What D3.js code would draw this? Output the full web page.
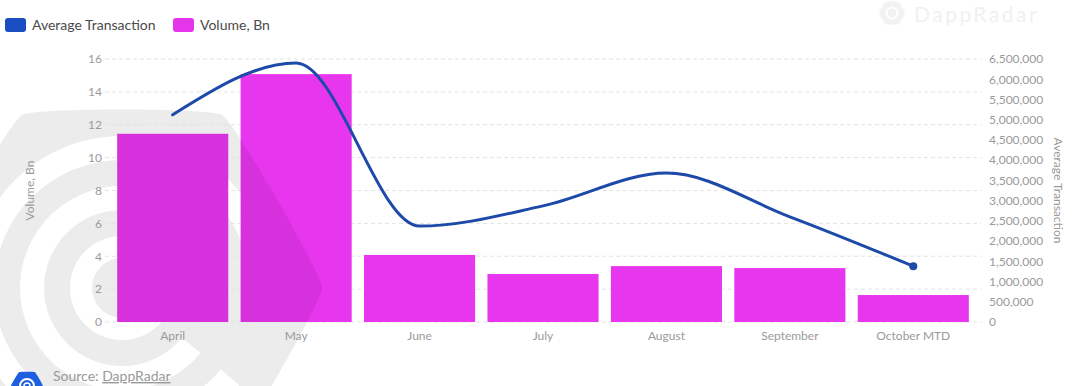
<!DOCTYPE html>
<html>
<head>
  <title>Volume and Average Transaction</title>
  <script src="https://d3js.org/d3.v7.min.js"></script>
  <style>
    body { margin: 0; background: #fff; }
    text { font-family: Lato, "Noto Sans", sans-serif; }
  </style>
</head>
<body>
  <div id="chart"></div>
  <script>
// chart data
const months = ["April", "May", "June", "July", "August", "September", "October MTD"];
const volumeBn = [11.45, 15.08, 4.08, 2.92, 3.4, 3.28, 1.64];
const avgTransaction = [5120000, 6400000, 2370000, 2870000, 3680000, 2600000, 1380000];
const leftTicks = [0, 2, 4, 6, 8, 10, 12, 14, 16];
const rightTicks = d3.range(0, 6500001, 500000);

const W = 1088, H = 386;
const plot = { left: 111, right: 975, top: 59, bottom: 322 };

const svg = d3.select("#chart")
  .append("svg")
  .attr("width", W)
  .attr("height", H);

// scales
const x = d3.scaleBand()
  .domain(months)
  .range([plot.left, plot.right])
  .paddingInner(0.1)
  .paddingOuter(0.05);

const yL = d3.scaleLinear().domain([0, 16]).range([plot.bottom, plot.top]);
const yR = d3.scaleLinear().domain([0, 6500000]).range([plot.bottom, plot.top]);

// background watermark (big logo on the left) - drawn under the plot
function hexPath(cx, cy, r) {
  const pts = d3.range(6).map(i => {
    const a = Math.PI / 3 * i;
    return [cx + r * Math.cos(a), cy + r * Math.sin(a)];
  });
  return d3.line().curve(d3.curveCardinalClosed.tension(0.75))(pts);
}
const wm = svg.append("g").attr("class", "watermark");
const wmCx = 122, wmCy = 288;
const rings = [[128, 152], [78, 102], [30, 52]];
wm.append("path").attr("d", hexPath(wmCx, wmCy, 200)).attr("fill", "#ececec");
const arc = d3.arc();
rings.forEach(([r0, r1]) => {
  wm.append("path")
    .attr("transform", `translate(${wmCx},${wmCy})`)
    .attr("d", arc({ innerRadius: r0, outerRadius: r1, startAngle: Math.PI * 0.72, endAngle: Math.PI * 2.45 }))
    .attr("fill", "#fff");
});

// gridlines
svg.append("g")
  .selectAll("line")
  .data(leftTicks)
  .join("line")
  .attr("x1", plot.left - 6)
  .attr("x2", plot.right + 6)
  .attr("y1", d => yL(d))
  .attr("y2", d => yL(d))
  .attr("stroke", "#e3e3e3")
  .attr("stroke-dasharray", "4,3");

// left axis
const leftAxis = svg.append("g")
  .attr("transform", `translate(${plot.left - 9},0)`)
  .call(d3.axisLeft(yL).tickValues(leftTicks).tickSize(0).tickPadding(0));
leftAxis.select(".domain").remove();
leftAxis.selectAll("text")
  .attr("fill", "#9a9a9a")
  .style("font-size", "12px")
  .style("font-family", "Lato, sans-serif");

// right axis
const rightAxis = svg.append("g")
  .attr("transform", `translate(${plot.right + 14},0)`)
  .call(d3.axisRight(yR).tickValues(rightTicks).tickFormat(d3.format(",")).tickSize(0).tickPadding(0));
rightAxis.select(".domain").remove();
rightAxis.selectAll("text")
  .attr("fill", "#9a9a9a")
  .style("font-size", "12px")
  .style("font-family", "Lato, sans-serif");

// bottom axis
const bottomAxis = svg.append("g")
  .attr("transform", `translate(0,${plot.bottom + 9})`)
  .call(d3.axisBottom(x).tickSize(0).tickPadding(0));
bottomAxis.select(".domain").remove();
bottomAxis.selectAll("text")
  .attr("fill", "#9a9a9a")
  .attr("dy", "0.75em")
  .style("font-size", "12px")
  .style("font-family", "Lato, sans-serif");

// axis titles
svg.append("text")
  .attr("transform", `translate(34,${(plot.top + plot.bottom) / 2}) rotate(-90)`)
  .attr("text-anchor", "middle")
  .attr("fill", "#9a9a9a")
  .style("font-size", "12px")
  .text("Volume, Bn");

svg.append("text")
  .attr("transform", `translate(1054,${(plot.top + plot.bottom) / 2}) rotate(90)`)
  .attr("text-anchor", "middle")
  .attr("fill", "#9a9a9a")
  .style("font-size", "12px")
  .text("Average Transaction");

// bars
svg.append("g")
  .selectAll("rect")
  .data(volumeBn)
  .join("rect")
  .attr("x", (d, i) => x(months[i]))
  .attr("y", d => yL(d))
  .attr("width", x.bandwidth())
  .attr("height", d => yL(0) - yL(d))
  .attr("fill", "#e835ee");

// watermark shading over the bars
const clip = svg.append("clipPath").attr("id", "barsClip");
clip.selectAll("rect")
  .data(volumeBn)
  .join("rect")
  .attr("x", (d, i) => x(months[i]))
  .attr("y", d => yL(d))
  .attr("width", x.bandwidth())
  .attr("height", d => yL(0) - yL(d));
svg.append("path")
  .attr("d", hexPath(wmCx, wmCy, 200))
  .attr("fill", "#000")
  .attr("opacity", 0.07)
  .attr("clip-path", "url(#barsClip)");
rings.forEach(([r0, r1]) => {
  svg.append("path")
    .attr("transform", `translate(${wmCx},${wmCy})`)
    .attr("d", arc({ innerRadius: r0, outerRadius: r1, startAngle: Math.PI * 0.72, endAngle: Math.PI * 2.45 }))
    .attr("fill", "#e835ee")
    .attr("clip-path", "url(#barsClip)");
});

// line
const line = d3.line()
  .x((d, i) => x(months[i]) + x.bandwidth() / 2)
  .y(d => yR(d))
  .curve(d3.curveMonotoneX);

svg.append("path")
  .datum(avgTransaction)
  .attr("d", line)
  .attr("fill", "none")
  .attr("stroke", "#1d4aa9")
  .attr("stroke-width", 3)
  .attr("stroke-linecap", "round");

const last = avgTransaction.length - 1;
svg.append("circle")
  .attr("cx", x(months[last]) + x.bandwidth() / 2)
  .attr("cy", yR(avgTransaction[last]))
  .attr("r", 4)
  .attr("fill", "#1d4aa9");

// legend
const legend = svg.append("g").attr("transform", "translate(5,18)");
const legendItems = [
  { label: "Average Transaction", color: "#1b4dc2", x: 0 },
  { label: "Volume, Bn", color: "#e535ea", x: 168 }
];
legendItems.forEach(it => {
  legend.append("rect")
    .attr("x", it.x).attr("y", 0)
    .attr("width", 21).attr("height", 14)
    .attr("rx", 3)
    .attr("fill", it.color);
  legend.append("text")
    .attr("x", it.x + 27).attr("y", 12)
    .attr("fill", "#4a4a4a")
    .style("font-size", "14px")
    .text(it.label);
});

// top-right faint brand
const brand = svg.append("g").attr("transform", "translate(892,13)").attr("opacity", 0.1);
brand.append("path").attr("d", hexPath(0, 0, 13)).attr("fill", "#888");
brand.append("circle").attr("r", 5.5).attr("fill", "none").attr("stroke", "#fff").attr("stroke-width", 2);
brand.append("text")
  .attr("x", 22).attr("y", 9)
  .attr("fill", "#777")
  .style("font-size", "21px")
  .style("letter-spacing", "2.5px")
  .text("DappRadar");

// source
const src = svg.append("g").attr("transform", "translate(27,386)");
src.append("path").attr("d", hexPath(0, 0, 16)).attr("fill", "#1d5fe0");
src.append("circle").attr("r", 7).attr("fill", "none").attr("stroke", "#fff").attr("stroke-width", 2);
src.append("circle").attr("r", 3).attr("fill", "none").attr("stroke", "#fff").attr("stroke-width", 1.5);
svg.append("text")
  .attr("x", 53).attr("y", 381)
  .attr("fill", "#999")
  .style("font-size", "14px")
  .html('Source: <tspan text-decoration="underline">DappRadar</tspan>');
  </script>
</body>
</html>
